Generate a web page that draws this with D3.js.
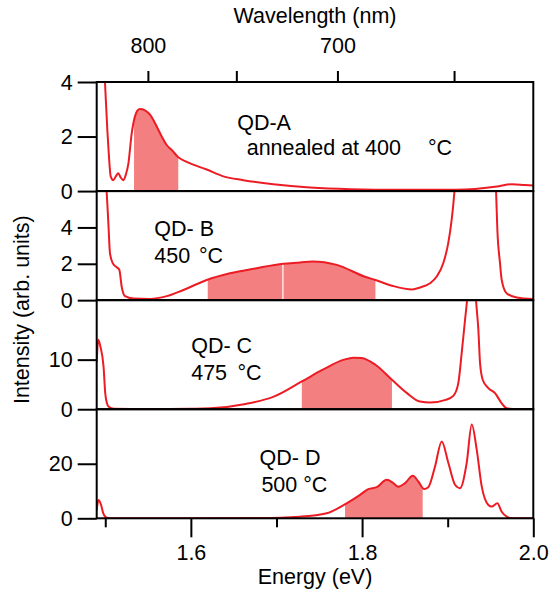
<!DOCTYPE html>
<html>
<head>
<meta charset="utf-8">
<script src="https://cdn.jsdelivr.net/npm/d3@7"></script>
<style>
  html, body { margin: 0; padding: 0; background: #fff; }
  svg text { font-family: "Liberation Sans", Arial, Helvetica, sans-serif; fill: #000; }
</style>
</head>
<body>
<svg id="chart" width="549" height="590"></svg>
<script>
// Photoluminescence spectra of four quantum-dot samples, energy in eV.
const energyA = [1.490, 1.495, 1.4997, 1.5024, 1.5036, 1.5064, 1.5094, 1.5125, 1.5152, 1.518, 1.5211, 1.524, 1.527, 1.5309, 1.5347, 1.5375, 1.5406, 1.5464, 1.5523, 1.5601, 1.566, 1.5718, 1.5776, 1.5853, 1.5951, 1.6185, 1.6379, 1.6613, 1.6963, 1.739, 1.787, 1.844, 1.91, 1.96, 1.975, 1.99, 2.0];
const intensityA = [12, 7, 3.98, 2.25, 1.63, 0.53, 0.40, 0.55, 0.65, 0.5, 0.40, 0.6, 1.01, 2.12, 2.74, 2.95, 3.01, 2.96, 2.80, 2.37, 2.0, 1.69, 1.51, 1.24, 1.07, 0.79, 0.54, 0.40, 0.25, 0.13, 0.07, 0.05, 0.05, 0.18, 0.25, 0.22, 0.2];

const energyB = [1.490, 1.495, 1.4998, 1.5017, 1.5036, 1.5055, 1.5087, 1.5134, 1.5164, 1.5192, 1.5231, 1.5328, 1.5523, 1.5718, 1.5912, 1.6185, 1.6457, 1.6769, 1.708, 1.7275, 1.7419, 1.7705, 1.8033, 1.8156, 1.8361, 1.8587, 1.8677, 1.8794, 1.8872, 1.8949, 1.9007, 1.9047, 1.9078, 1.912, 1.92, 1.93, 1.94, 1.95, 1.9565, 1.958, 1.9611, 1.9631, 1.969, 1.9807, 2.0];
const intensityB = [22, 14, 7, 5.9, 4.26, 2.59, 2.04, 1.81, 1.67, 0.74, 0.22, 0.09, 0.07, 0.22, 0.56, 1.11, 1.48, 1.76, 2.0, 2.07, 2.13, 1.94, 1.29, 1.11, 0.78, 0.59, 0.70, 0.93, 1.3, 2.04, 3.15, 4.44, 5.93, 9, 14, 18, 18, 12, 6, 3.9, 2.04, 1.11, 0.37, 0.15, 0.06];

const energyC = [1.490, 1.4918, 1.4945, 1.498, 1.500, 1.502, 1.504, 1.51, 1.55, 1.6, 1.623, 1.664, 1.6968, 1.7296, 1.7541, 1.7788, 1.79, 1.7992, 1.8156, 1.8349, 1.8525, 1.8677, 1.8794, 1.8976, 1.9066, 1.9124, 1.9164, 1.9203, 1.9229, 1.926, 1.928, 1.931, 1.9331, 1.9358, 1.9378, 1.941, 1.9475, 1.9553, 1.9631, 1.969, 1.98, 2.0];
const intensityC = [9.5, 14.0, 12.5, 8.6, 3.2, 1.2, 0.5, 0.1, 0.02, 0.1, 0.2, 1.07, 2.55, 5.6, 7.97, 10.0, 10.4, 10.34, 8.98, 5.94, 3.24, 1.55, 1.35, 1.89, 2.7, 5.27, 11.4, 18.1, 22.5, 30, 32, 28, 22, 16.1, 9.3, 5.9, 4.25, 3.24, 1.2, 0.2, 0.05, 0.05];

const energyD = [1.490, 1.4921, 1.495, 1.4977, 1.501, 1.505, 1.6, 1.68, 1.7275, 1.7587, 1.782, 1.7976, 1.8073, 1.8171, 1.8288, 1.8365, 1.8423, 1.8502, 1.8592, 1.8657, 1.8724, 1.8774, 1.8852, 1.893, 1.9008, 1.9086, 1.9144, 1.9222, 1.9281, 1.9339, 1.9398, 1.9475, 1.9514, 1.958, 1.9631, 1.969, 1.975, 2.0];
const intensityD = [3, 6.7, 5, 1.8, 0.3, 0.0, 0, 0.1, 0.6, 1.84, 5.5, 8.6, 10.7, 11.4, 14.1, 12.9, 11.6, 12.9, 15.6, 13.5, 10.7, 11.4, 19.0, 28.2, 20.3, 12.3, 11.05, 20.3, 34.4, 25.2, 11.6, 4.9, 4.3, 5.5, 2.4, 0.6, 0.05, 0];

// Shaded integration windows (eV)
const fillA = [[1.5336, 1.5853]];
const fillB = [[1.6197, 1.7068], [1.7082, 1.8156]];
const fillC = [[1.7296, 1.8349]];
const fillD = [[1.7801, 1.8708]];

// Vertical ranges and tick labels of each panel
const yMaxes = [4, 6, 22, 40];
const yTickValues = [[0, 2, 4], [0, 2, 4], [0, 10], [0, 20]];

// Energy axis ticks
const energyMajorTicks = [1.6, 1.8, 2.0];
const energyMinorTicks = [1.5, 1.7, 1.9];

// Wavelength axis ticks (nm)
const wavelengthTicks = [800, 750, 700, 650];
const wavelengthLabels = [800, 700];

const HC = 1239.84; // eV·nm

(function draw() {
  const panels = [
    { energy: energyA, intensity: intensityA, fills: fillA },
    { energy: energyB, intensity: intensityB, fills: fillB },
    { energy: energyC, intensity: intensityC, fills: fillC },
    { energy: energyD, intensity: intensityD, fills: fillD }
  ];

  const FONT = 21.5;
  const LINE = "#ec1c24";
  const SHADE = "#f47f80";

  const plotLeft = 96.7, plotRight = 533.3, plotTop = 82, plotBottom = 518.3;
  const panelH = (plotBottom - plotTop) / panels.length;

  const svg = d3.select("#chart");
  const x = d3.scaleLinear().domain([1.49, 2.0]).range([plotLeft, plotRight]);

  panels.forEach((p, i) => {
    const pTop = plotTop + i * panelH;
    const pBot = pTop + panelH;
    const y = d3.scaleLinear().domain([0, yMaxes[i]]).range([pBot, pTop]);
    const pts = p.energy.map((e, k) => [e, p.intensity[k]]);

    const clipId = "panel-clip-" + i;
    svg.append("clipPath").attr("id", clipId)
      .append("rect").attr("x", plotLeft).attr("y", pTop)
      .attr("width", plotRight - plotLeft).attr("height", panelH);

    const g = svg.append("g").attr("clip-path", `url(#${clipId})`);

    const area = d3.area().x(d => x(d[0])).y0(y(0)).y1(d => y(d[1])).curve(d3.curveMonotoneX);
    p.fills.forEach((r, j) => {
      const fid = `fill-clip-${i}-${j}`;
      svg.append("clipPath").attr("id", fid)
        .append("rect").attr("x", x(r[0])).attr("y", pTop)
        .attr("width", x(r[1]) - x(r[0])).attr("height", panelH);
      g.append("path").datum(pts)
        .attr("clip-path", `url(#${fid})`)
        .attr("fill", SHADE)
        .attr("d", area);
    });

    const line = d3.line().x(d => x(d[0])).y(d => y(d[1])).curve(d3.curveMonotoneX);
    g.append("path").datum(pts)
      .attr("fill", "none").attr("stroke", LINE)
      .attr("stroke-width", 2).attr("stroke-linejoin", "round")
      .attr("d", line);

    // frame of the panel
    svg.append("rect").attr("x", plotLeft).attr("y", pTop)
      .attr("width", plotRight - plotLeft).attr("height", panelH)
      .attr("fill", "none").attr("stroke", "#000").attr("stroke-width", 2);

    // left axis
    const ya = svg.append("g").attr("transform", `translate(${plotLeft},0)`)
      .call(d3.axisLeft(y).tickValues(yTickValues[i]).tickSize(19).tickPadding(5).tickFormat(d3.format("d")));
    ya.select(".domain").remove();
    ya.selectAll(".tick line").attr("stroke", "#000").attr("stroke-width", 2);
    ya.selectAll(".tick text").attr("font-size", FONT).attr("dy", "0.33em");
    ya.attr("font-size", null).attr("font-family", null);
  });

  // bottom energy axis
  const bMaj = svg.append("g").attr("transform", `translate(0,${plotBottom})`)
    .call(d3.axisBottom(x).tickValues(energyMajorTicks).tickSize(19).tickFormat(d3.format(".1f")));
  bMaj.select(".domain").remove();
  bMaj.selectAll(".tick line").attr("stroke", "#000").attr("stroke-width", 2);
  bMaj.selectAll(".tick text").attr("font-size", FONT).attr("y", 41.6).attr("dy", 0);
  bMaj.attr("font-size", null).attr("font-family", null);

  const bMin = svg.append("g").attr("transform", `translate(0,${plotBottom})`)
    .call(d3.axisBottom(x).tickValues(energyMinorTicks).tickSize(9).tickFormat(""));
  bMin.select(".domain").remove();
  bMin.selectAll(".tick line").attr("stroke", "#000").attr("stroke-width", 2);

  // top wavelength axis
  const tAx = svg.append("g").attr("transform", `translate(0,${plotTop})`)
    .call(d3.axisTop(x)
      .tickValues(wavelengthTicks.map(nm => HC / nm))
      .tickSize(11)
      .tickFormat(e => {
        const nm = Math.round(HC / e);
        return wavelengthLabels.includes(nm) ? String(nm) : "";
      }));
  tAx.select(".domain").remove();
  tAx.selectAll(".tick line").attr("stroke", "#000").attr("stroke-width", 2);
  tAx.selectAll(".tick text").attr("font-size", FONT).attr("y", -28.7).attr("dy", 0);
  tAx.attr("font-size", null).attr("font-family", null);

  // axis titles
  svg.append("text").attr("x", (plotLeft + plotRight) / 2).attr("y", 22.7)
    .attr("text-anchor", "middle").attr("font-size", FONT).text("Wavelength (nm)");
  svg.append("text").attr("x", (plotLeft + plotRight) / 2).attr("y", 584)
    .attr("text-anchor", "middle").attr("font-size", FONT).text("Energy (eV)");
  svg.append("text").attr("transform", "translate(29,309.7) rotate(-90)")
    .attr("text-anchor", "middle").attr("font-size", FONT).text("Intensity (arb. units)");

  // sample annotations
  const notes = [
    { t: "QD-A", x: 237.2, y: 130 },
    { t: "annealed at 400", x: 246.7, y: 155 },
    { t: "°C", x: 428, y: 155 },
    { t: "QD- B", x: 154.3, y: 235.7 },
    { t: "450", x: 154.3, y: 262.7 },
    { t: "°C", x: 199, y: 262.7 },
    { t: "QD- C", x: 191.2, y: 353.3 },
    { t: "475", x: 191.2, y: 380 },
    { t: "°C", x: 237.5, y: 380 },
    { t: "QD- D", x: 259.6, y: 465 },
    { t: "500 °C", x: 261.4, y: 491.7 }
  ];
  svg.selectAll("text.note").data(notes).enter().append("text")
    .attr("class", "note")
    .attr("x", d => d.x).attr("y", d => d.y)
    .attr("font-size", FONT)
    .text(d => d.t);
})();
</script>
</body>
</html>
